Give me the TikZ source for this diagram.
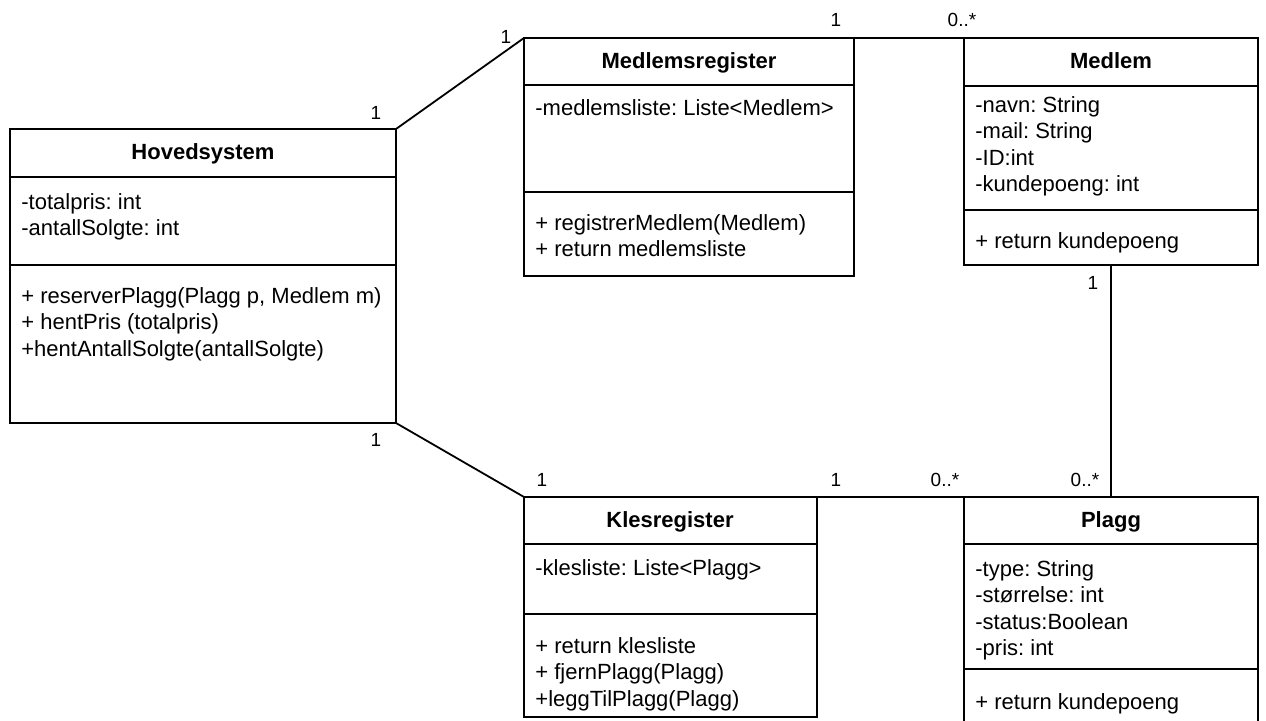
\documentclass[tikz,border=0pt]{standalone}
\usepackage{fontspec}
\setmainfont{Liberation Sans}
\usetikzlibrary{positioning}
\frenchspacing

\tikzset{
  classbox/.style={draw, line width=0.9pt, inner sep=0pt, outer sep=0pt, anchor=north west},
  classname/.style={anchor=base, font=\fontsize{11}{13.2}\selectfont\bfseries},
  members/.style={anchor=north west, align=left, inner sep=0pt, font=\fontsize{11}{13.2}\selectfont},
  divider/.style={line width=0.9pt},
  assoc/.style={line width=0.9pt},
  mult/.style={font=\fontsize{9.5}{11.4}\selectfont}
}

\begin{document}
\begin{tikzpicture}[x=0.5pt,y=-0.5pt]
  \path[use as bounding box, clip] (0,0) rectangle (1266,721);

  % class boxes
  \node[classbox, minimum width=193pt, minimum height=147pt] (hov) at (10,129) {};
  \node[classbox, minimum width=165pt, minimum height=119pt] (mreg) at (524,38) {};
  \node[classbox, minimum width=147pt, minimum height=113.5pt] (med) at (964,38) {};
  \node[classbox, minimum width=146.5pt, minimum height=110pt] (kreg) at (524,497) {};
  \node[classbox, minimum width=147pt, minimum height=130pt] (plagg) at (964,497) {};

  \foreach \xa/\xb/\y in {10/396/177, 10/396/265,
                          524/854/85, 524/854/192,
                          964/1258/86, 964/1258/210,
                          524/817/544, 524/817/614,
                          964/1258/544, 964/1258/669}
    \draw[divider] (\xa,\y) -- (\xb,\y);

  % names
  \node[classname] (hovt) at (203,160) {Hovedsystem};
  \node[classname] (mregt) at (689,69) {Medlemsregister};
  \node[classname] (medt) at (1111,69) {Medlem};
  \node[classname] (kregt) at (670,528) {Klesregister};
  \node[classname] (plaggt) at (1111,528) {Plagg};

  % attributes and methods
  \node[members] (hova) at (21,190.5) {\strut-totalpris: int\\-antallSolgte: int};
  \node[members] (hovm) at (21,284.5) {\strut+ reserverPlagg(Plagg p, Medlem m)\\+ hentPris (totalpris)\\+hentAntallSolgte(antallSolgte)};
  \node[members] (mrega) at (535,96.5) {\strut-medlemsliste: Liste<Medlem>};
  \node[members] (mregm) at (535,211.5) {\strut+ registrerMedlem(Medlem)\\+ return medlemsliste};
  \node[members] (meda) at (975,93.5) {\strut-navn: String\\-mail: String\\-ID:int\\-kundepoeng: int};
  \node[members] (medm) at (975,229.5) {\strut+ return kundepoeng};
  \node[members] (krega) at (535,556.5) {\strut-klesliste: Liste<Plagg>};
  \node[members] (kregm) at (535,634.5) {\strut+ return klesliste\\+ fjernPlagg(Plagg)\\+leggTilPlagg(Plagg)};
  \node[members] (plagga) at (975,557.5) {\strut-type: String\\-størrelse: int\\-status:Boolean\\-pris: int};
  \node[members] (plaggm) at (975,690.5) {\strut+ return kundepoeng};

  % associations
  \draw[assoc] (hov.north east) -- (mreg.north west);
  \draw[assoc] (hov.south east) -- (kreg.north west);
  \draw[assoc] (mreg.north east) -- (med.north west);
  \draw[assoc] (kreg.north east) -- (plagg.north west);
  \draw[assoc] (med.south) -- (plagg.north);

  % multiplicities
  \foreach \x/\y/\t [count=\i] in {376/113/1, 506/37/1, 836/20/1, 962/20/0..*,
                                   1093/283/1, 376/440/1, 542/480/1, 836/480/1,
                                   945/480/0..*, 1085/480/0..*}
    \node[mult] (m\i) at (\x,\y) {\t};
\end{tikzpicture}
\end{document}
